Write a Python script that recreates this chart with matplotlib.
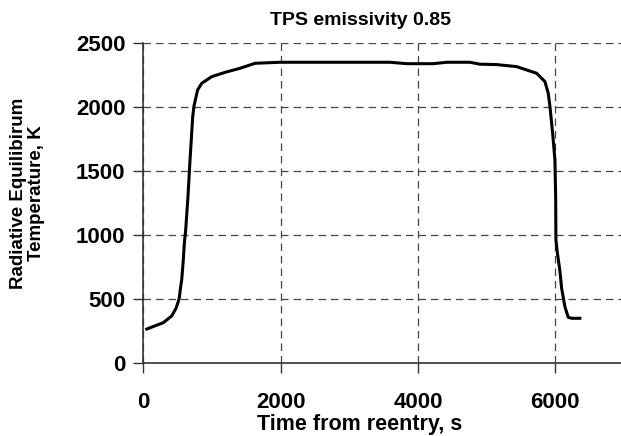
import matplotlib
matplotlib.use("Agg")
import matplotlib.pyplot as plt

# time from reentry (s) and radiative equilibrium temperature (K)
time_s = [49, 291, 413, 476, 520, 544, 559, 582, 597, 617, 650, 680, 719, 738,
          790, 850, 996, 1200, 1408, 1626, 1990, 2800, 3592, 3835, 4222, 4417,
          4757, 4902, 5145, 5437, 5728, 5849, 5897, 5921, 5960, 5994, 6005,
          6009, 6030, 6067, 6092, 6140, 6188, 6237, 6358]
temp_k = [267, 317, 369, 429, 499, 597, 650, 806, 936, 1040, 1300, 1585, 1923,
          2006, 2130, 2183, 2235, 2270, 2300, 2339, 2347, 2347, 2347, 2336, 2336,
          2347, 2347, 2332, 2329, 2313, 2261, 2196, 2105, 2006, 1800, 1585, 1300,
          961, 860, 720, 585, 441, 359, 351, 351]

x_ticks = [0, 2000, 4000, 6000]
y_ticks = [0, 500, 1000, 1500, 2000, 2500]

plt.rcParams['font.family'] = ['Liberation Sans', 'DejaVu Sans']
plt.rcParams['font.weight'] = 'bold'

fig = plt.figure(figsize=(6.21, 4.36), dpi=100)
ax = fig.add_axes([0.2308, 0.1667, 0.774, 0.7355])

ax.plot(time_s, temp_k, color='black', lw=2.2, solid_joinstyle='round')

ax.set_xlim(0, 7000)
ax.set_ylim(0, 2500)
ax.set_xticks(x_ticks)
ax.set_yticks(y_ticks)
ax.tick_params(labelsize=16, direction='out', length=7, width=1, color='#333333')
ax.tick_params(axis='x', pad=14)
ax.tick_params(axis='y', pad=6)

ax.grid(True, color='#444444', linestyle=(0, (6, 4)), lw=0.9)
for side in ['top', 'right']:
    ax.spines[side].set_visible(False)
for side in ['left', 'bottom']:
    ax.spines[side].set_color('#333333')
    ax.spines[side].set_linewidth(1.2)

ax.set_title('TPS emissivity 0.85', fontsize=14, fontweight='bold', x=0.451, y=1.0, pad=13)
ax.set_xlabel('Time from reentry, s', fontsize=15.5, fontweight='bold')
ax.xaxis.set_label_coords(0.451, -0.158)
ax.set_ylabel('Radiative Equilibirum\nTemperature, K', fontsize=13.5,
              fontweight='bold', linespacing=1.1)
ax.yaxis.set_label_coords(-0.204, 0.53)

fig.savefig('out.png', dpi=100)
